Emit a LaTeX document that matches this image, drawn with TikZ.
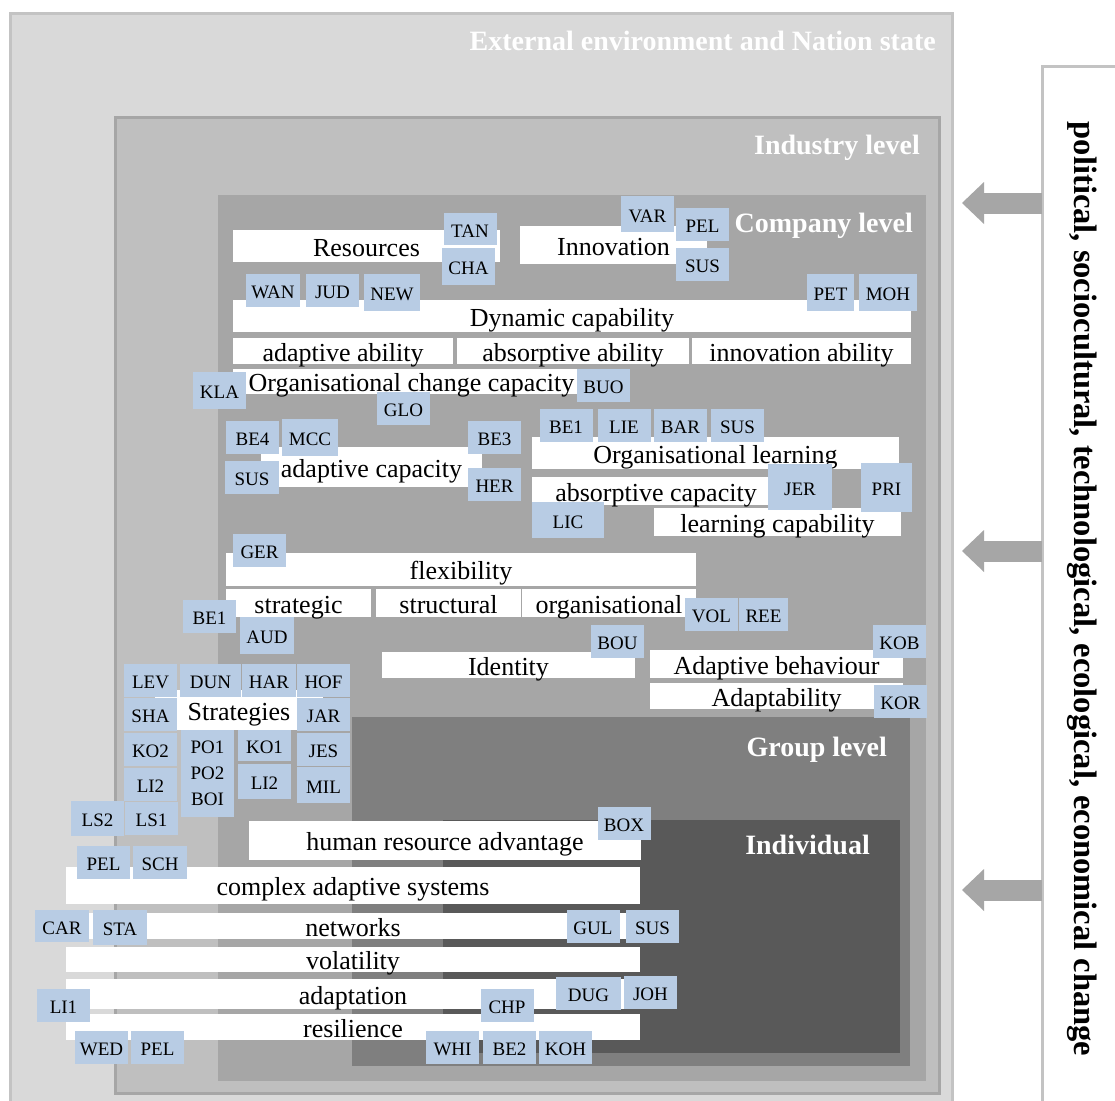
\documentclass[tikz,border=0pt]{standalone}
\usepackage{fontspec}
\setmainfont{Liberation Serif}
\usetikzlibrary{arrows.meta}
\definecolor{envfill}{HTML}{D9D9D9}
\definecolor{envline}{HTML}{C3C3C3}
\definecolor{indfill}{HTML}{BFBFBF}
\definecolor{indline}{HTML}{A6A6A6}
\definecolor{compfill}{HTML}{A6A6A6}
\definecolor{grpfill}{HTML}{7F7F7F}
\definecolor{persfill}{HTML}{595959}
\definecolor{tagblue}{HTML}{B8CCE4}
\newcommand\barfont{\fontsize{26}{28}\selectfont}
\newcommand\tagfont{\fontsize{19}{26}\selectfont}
\newcommand\lvlfont{\fontsize{28}{30}\selectfont\bfseries}
\newcommand\sidefont{\fontsize{32.5}{34}\selectfont\bfseries}
\begin{document}
\begin{tikzpicture}[
        x=1pt, y=-1pt,
        lvl/.style={anchor=north west, inner sep=0pt, outer sep=0pt},
        lvltitle/.style={anchor=east, text=white, font=\lvlfont, inner sep=0pt, text height=18.5pt, text depth=0pt},
        bar/.style={fill=white, inner sep=0pt, font=\barfont, text height=20pt, text depth=0pt},
        tag/.style={fill=tagblue, inner sep=0pt, minimum width=53pt, minimum height=33pt, font=\tagfont, text height=16pt, text depth=0pt},
        bigarr/.style={draw=indline, line width=21pt, -{Triangle[length=22pt, width=42pt, line width=0pt]}},
        sidetext/.style={rotate=-90, font=\sidefont, inner sep=0pt},
    ]

    \useasboundingbox[fill=white] (0,0) rectangle (1115,1100);

    \node[lvl, fill=envfill, draw=envline, line width=3pt, minimum width=942pt, minimum height=1100pt](env) at (10,13) {};
    \node[lvl, fill=indfill, draw=indline, line width=3pt, minimum width=824pt, minimum height=976pt](industry) at (115,117) {};
    \node[lvl, fill=compfill, minimum width=708pt, minimum height=886pt](company) at (218,195) {};
    \node[lvl, fill=grpfill, minimum width=558pt, minimum height=349pt](group) at (352,717) {};
    \node[lvl, fill=persfill, minimum width=457pt, minimum height=233pt](person) at (443,820) {};

    \coordinate (tip1) at (962,203);
    \coordinate (tip2) at (962,551);
    \coordinate (tip3) at (962,890);
    \node[lvl, fill=white, draw=envline, line width=3pt, minimum width=100pt, minimum height=1100pt](panel) at (1042,66) {};
    \draw[bigarr] (panel.west |- tip1) -- (tip1);
    \draw[bigarr] (panel.west |- tip2) -- (tip2);
    \draw[bigarr] (panel.west |- tip3) -- (tip3);
    \node[sidetext](change) at (1082,589) {political, sociocultural, technological, ecological, economical change};

    \node[lvltitle](envtitle) at (936,41) {External environment and Nation state};
    \node[lvltitle](indtitle) at (920,145) {Industry level};
    \node[lvltitle](comptitle) at (913,223) {Company level};
    \node[lvltitle](grptitle) at (887,747) {Group level};
    \node[lvltitle](perstitle) at (870,845) {Individual};

    \node[bar, minimum width=267pt, minimum height=32pt](res) at (366.5,246) {Resources};
    \node[bar, minimum width=187pt, minimum height=38pt](inno) at (613.5,245) {Innovation};
    \node[bar, minimum width=678pt, minimum height=32pt](dyncap) at (572,316) {Dynamic capability};
    \node[bar, minimum width=220pt, minimum height=26pt](adab) at (343,351) {adaptive ability};
    \node[bar, minimum width=232pt, minimum height=26pt](absab) at (573,351) {absorptive ability};
    \node[bar, minimum width=219pt, minimum height=26pt](innab) at (801.5,351) {innovation ability};
    \node[bar, minimum width=357pt, minimum height=25pt](occ) at (411.5,381) {Organisational change capacity};
    \node[bar, minimum width=221pt, minimum height=40pt](adcap) at (371.5,467) {adaptive capacity};
    \node[bar, minimum width=367pt, minimum height=32pt](orglearn) at (715.5,453) {Organisational learning};
    \node[bar, minimum width=248pt, minimum height=28pt](abscap) at (656,491) {absorptive capacity};
    \node[bar, minimum width=247pt, minimum height=28pt](learncap) at (777.5,522) {learning capability};
    \node[bar, minimum width=470pt, minimum height=33pt](flex) at (461,569.5) {flexibility};
    \node[bar, minimum width=145pt, minimum height=28pt](strat) at (298.5,603) {strategic};
    \node[bar, minimum width=145pt, minimum height=28pt](struc) at (448.5,603) {structural};
    \node[bar, minimum width=174pt, minimum height=28pt](orgn) at (609,603) {organisational};
    \node[bar, minimum width=253pt, minimum height=26pt](ident) at (508.5,665) {Identity};
    \node[bar, minimum width=253pt, minimum height=28pt](adbeh) at (776.5,664) {Adaptive behaviour};
    \node[bar, minimum width=253pt, minimum height=26pt](adapt) at (776.5,696) {Adaptability};
    \node[bar, minimum width=168pt, minimum height=40pt](strats) at (239,710) {Strategies};
    \node[bar, minimum width=392pt, minimum height=39pt](hra) at (445,840) {human resource advantage};
    \node[bar, minimum width=574pt, minimum height=37pt](cas) at (353,885) {complex adaptive systems};
    \node[bar, minimum width=574pt, minimum height=26pt](netw) at (353,926) {networks};
    \node[bar, minimum width=574pt, minimum height=25pt](volat) at (353,959.5) {volatility};
    \node[bar, minimum width=574pt, minimum height=30pt](adapn) at (353,994) {adaptation};
    \node[bar, minimum width=574pt, minimum height=26pt](resil) at (353,1027) {resilience};

    \node[tag, minimum height=32pt](tan) at (470,229) {TAN};
    \node[tag, minimum height=37pt](cha) at (468.5,266.5) {CHA};
    \node[tag, minimum height=36pt](var) at (647.5,214) {VAR};
    \node[tag](pel1) at (702.5,224.5) {PEL};
    \node[tag](sus1) at (702.5,264.5) {SUS};
    \node[tag, minimum width=54pt](wan) at (273,290.5) {WAN};
    \node[tag](jud) at (332.5,290.5) {JUD};
    \node[tag, minimum width=56pt, minimum height=37pt](new) at (392,292.5) {NEW};
    \node[tag, minimum width=47pt, minimum height=37pt](pet) at (830.5,292.5) {PET};
    \node[tag, minimum width=58pt, minimum height=37pt](moh) at (888,292.5) {MOH};
    \node[tag, minimum height=37pt](kla) at (219.5,390.5) {KLA};
    \node[tag](buo) at (603.5,385.5) {BUO};
    \node[tag](glo) at (403.5,408.5) {GLO};
    \node[tag](be4) at (252.5,437.5) {BE4};
    \node[tag, minimum width=56pt, minimum height=37pt](mcc) at (310,437.5) {MCC};
    \node[tag](be3) at (494.5,437.5) {BE3};
    \node[tag, minimum width=54pt](sus2) at (252,477) {SUS};
    \node[tag](her) at (494.5,484) {HER};
    \node[tag](be1a) at (566,425) {BE1};
    \node[tag](lie) at (624,425) {LIE};
    \node[tag](barr) at (680.5,425) {BAR};
    \node[tag](sus3) at (737.5,425) {SUS};
    \node[tag, minimum width=64pt, minimum height=46pt](jer) at (800,487) {JER};
    \node[tag, minimum width=51pt, minimum height=49pt](pri) at (886.5,487.5) {PRI};
    \node[tag, minimum width=72pt, minimum height=36pt](lic) at (568,520) {LIC};
    \node[tag](ger) at (259.5,550.5) {GER};
    \node[tag](be1b) at (209.5,616.5) {BE1};
    \node[tag, minimum width=54pt, minimum height=37pt](aud) at (267,635.5) {AUD};
    \node[tag](vol) at (711.5,614.5) {VOL};
    \node[tag, minimum width=49pt](ree) at (763.5,614.5) {REE};
    \node[tag](bou) at (617.5,641) {BOU};
    \node[tag](kob) at (899.5,641) {KOB};
    \node[tag](kor) at (900.5,701.5) {KOR};
    \node[tag](lev) at (150.5,680.5) {LEV};
    \node[tag, minimum width=61pt](dun) at (210.5,680.5) {DUN};
    \node[tag, minimum width=54pt](har) at (269,680.5) {HAR};
    \node[tag](hof) at (323.5,680.5) {HOF};
    \node[tag](sha) at (150.5,714) {SHA};
    \node[tag](jar) at (323.5,714) {JAR};
    \node[tag](ko2) at (150.5,749) {KO2};
    \node[tag, minimum height=87pt, text height={}, text depth={}, align=center](po) at (207.5,773.5) {PO1\\PO2\\BOI};
    \node[tag, minimum height=31pt](ko1) at (264.5,745.5) {KO1};
    \node[tag](jes) at (323.5,749) {JES};
    \node[tag](li2a) at (150.5,784) {LI2};
    \node[tag, minimum height=35pt](li2b) at (264.5,781.5) {LI2};
    \node[tag, minimum height=36pt](mil) at (323.5,785) {MIL};
    \node[tag](ls1) at (151.5,818.5) {LS1};
    \node[tag, minimum height=35pt](ls2) at (97.5,818.5) {LS2};
    \node[tag](pel2) at (103.5,862.5) {PEL};
    \node[tag, minimum width=54pt](sch) at (160,862.5) {SCH};
    \node[tag](box) at (624,823) {BOX};
    \node[tag, minimum width=54pt, minimum height=32pt](car) at (62,926) {CAR};
    \node[tag, minimum width=54pt, minimum height=35pt](sta) at (120,927.5) {STA};
    \node[tag](gul) at (593,926) {GUL};
    \node[tag](sus4) at (652.5,926) {SUS};
    \node[tag](li1) at (63.5,1005) {LI1};
    \node[tag](wed) at (101.5,1047) {WED};
    \node[tag](pel3) at (157.5,1047) {PEL};
    \node[tag](chp) at (507,1005) {CHP};
    \node[tag, minimum width=65pt](dug) at (588.5,993) {DUG};
    \node[tag](joh) at (650.5,992) {JOH};
    \node[tag](whi) at (452.5,1047) {WHI};
    \node[tag](be2) at (509.5,1047) {BE2};
    \node[tag](koh) at (565.5,1047) {KOH};
\end{tikzpicture}
\end{document}
